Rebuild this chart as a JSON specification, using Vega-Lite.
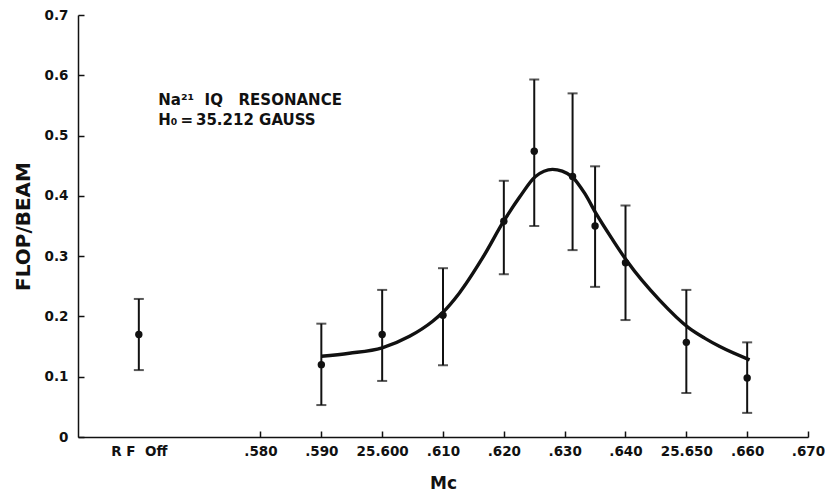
{
  "$schema": "https://vega.github.io/schema/vega-lite/v6.json",
  "width": 730,
  "height": 422,
  "autosize": {"type": "none"},
  "padding": {"left": 78, "top": 15, "right": 17, "bottom": 57},
  "background": "white",
  "config": {
    "view": {"stroke": null},
    "font": "DejaVu Sans"
  },
  "datasets": {
    "curve": [
      {"mc": 25.5900, "flop": 0.134},
      {"mc": 25.5946, "flop": 0.139},
      {"mc": 25.6000, "flop": 0.148},
      {"mc": 25.6045, "flop": 0.167},
      {"mc": 25.6083, "flop": 0.192},
      {"mc": 25.6099, "flop": 0.206},
      {"mc": 25.6127, "flop": 0.239},
      {"mc": 25.6165, "flop": 0.297},
      {"mc": 25.6201, "flop": 0.360},
      {"mc": 25.6226, "flop": 0.398},
      {"mc": 25.6252, "flop": 0.432},
      {"mc": 25.6280, "flop": 0.444},
      {"mc": 25.6296, "flop": 0.441},
      {"mc": 25.6313, "flop": 0.431},
      {"mc": 25.6333, "flop": 0.404},
      {"mc": 25.6352, "flop": 0.370},
      {"mc": 25.6379, "flop": 0.327},
      {"mc": 25.6403, "flop": 0.291},
      {"mc": 25.6456, "flop": 0.227},
      {"mc": 25.6504, "flop": 0.181},
      {"mc": 25.6530, "flop": 0.164},
      {"mc": 25.6555, "flop": 0.150},
      {"mc": 25.6604, "flop": 0.128}
    ],
    "points": [
      {"mc": 25.560, "flop": 0.170, "lo": 0.111, "hi": 0.229},
      {"mc": 25.590, "flop": 0.120, "lo": 0.053, "hi": 0.188},
      {"mc": 25.600, "flop": 0.170, "lo": 0.093, "hi": 0.244},
      {"mc": 25.610, "flop": 0.202, "lo": 0.119, "hi": 0.280},
      {"mc": 25.620, "flop": 0.358, "lo": 0.270, "hi": 0.425},
      {"mc": 25.625, "flop": 0.474, "lo": 0.350, "hi": 0.593},
      {"mc": 25.6313, "flop": 0.432, "lo": 0.310, "hi": 0.570},
      {"mc": 25.635, "flop": 0.350, "lo": 0.249, "hi": 0.449},
      {"mc": 25.640, "flop": 0.289, "lo": 0.194, "hi": 0.384},
      {"mc": 25.650, "flop": 0.157, "lo": 0.073, "hi": 0.244},
      {"mc": 25.660, "flop": 0.098, "lo": 0.040, "hi": 0.157}
    ],
    "notes": [
      {"mc": 25.5632, "flop": 0.551, "label": "Na²¹\u00a0\u00a0IQ\u00a0\u00a0\u00a0RESONANCE"},
      {"mc": 25.5632, "flop": 0.517, "label": "H₀\u2009=\u200935.212\u00a0GAUSS"}
    ]
  },
  "encoding": {
    "x": {
      "field": "mc",
      "type": "quantitative",
      "scale": {"domain": [25.55, 25.67], "nice": false, "zero": false},
      "axis": {
        "title": "Mc",
        "values": [25.56, 25.58, 25.59, 25.60, 25.61, 25.62, 25.63, 25.64, 25.65, 25.66, 25.67],
        "labelExpr": "datum.value < 25.57 ? 'R\u00a0F\u00a0\u00a0Off' : (abs(datum.value - 25.6) < 0.001 ? '25.600' : (abs(datum.value - 25.65) < 0.001 ? '25.650' : substring(format(datum.value, '.3f'), 2)))",
        "grid": false,
        "domainColor": "#111",
        "domainWidth": 1.5,
        "tickColor": "#111",
        "tickWidth": 1.5,
        "tickSize": -6,
        "tickOpacity": {"condition": {"test": "datum.value < 25.57", "value": 0}, "value": 1},
        "labelFont": "DejaVu Sans",
        "labelFontWeight": "bold",
        "labelFontSize": 13.5,
        "labelColor": "#111",
        "labelPadding": 13,
        "labelFlush": false,
        "labelOverlap": false,
        "titleFont": "DejaVu Sans",
        "titleFontWeight": "bold",
        "titleFontSize": 17,
        "titleColor": "#111",
        "titlePadding": 18
      }
    },
    "y": {
      "field": "flop",
      "type": "quantitative",
      "scale": {"domain": [0, 0.7], "nice": false},
      "axis": {
        "title": "FLOP/BEAM",
        "values": [0, 0.1, 0.2, 0.3, 0.4, 0.5, 0.6, 0.7],
        "labelExpr": "datum.value == 0 ? '0' : format(datum.value, '.1f')",
        "grid": false,
        "domainColor": "#111",
        "domainWidth": 1.5,
        "tickColor": "#111",
        "tickWidth": 1.5,
        "tickSize": -6,
        "labelFont": "DejaVu Sans",
        "labelFontWeight": "bold",
        "labelFontSize": 13.5,
        "labelColor": "#111",
        "labelPadding": 16,
        "labelFlush": false,
        "titleFont": "DejaVu Sans",
        "titleFontWeight": "bold",
        "titleFontSize": 20,
        "titleColor": "#111",
        "titlePadding": 11
      }
    }
  },
  "layer": [
    {
      "data": {"name": "curve"},
      "mark": {"type": "line", "interpolate": "monotone", "color": "#111", "strokeWidth": 3.4},
      "encoding": {}
    },
    {
      "data": {"name": "points"},
      "mark": {"type": "rule", "color": "#111", "strokeWidth": 2},
      "encoding": {"y": {"field": "lo", "type": "quantitative"}, "y2": {"field": "hi"}}
    },
    {
      "data": {"name": "points"},
      "mark": {"type": "tick", "orient": "horizontal", "color": "#111", "size": 10, "thickness": 2},
      "encoding": {"y": {"field": "lo", "type": "quantitative"}}
    },
    {
      "data": {"name": "points"},
      "mark": {"type": "tick", "orient": "horizontal", "color": "#111", "size": 10, "thickness": 2},
      "encoding": {"y": {"field": "hi", "type": "quantitative"}}
    },
    {
      "data": {"name": "points"},
      "mark": {"type": "point", "filled": true, "color": "#111", "size": 55, "opacity": 1},
      "encoding": {}
    },
    {
      "data": {"name": "notes"},
      "mark": {"type": "text", "align": "left", "baseline": "alphabetic", "font": "DejaVu Sans", "fontWeight": "bold", "fontSize": 15, "color": "#111"},
      "encoding": {"text": {"field": "label"}}
    }
  ]
}
